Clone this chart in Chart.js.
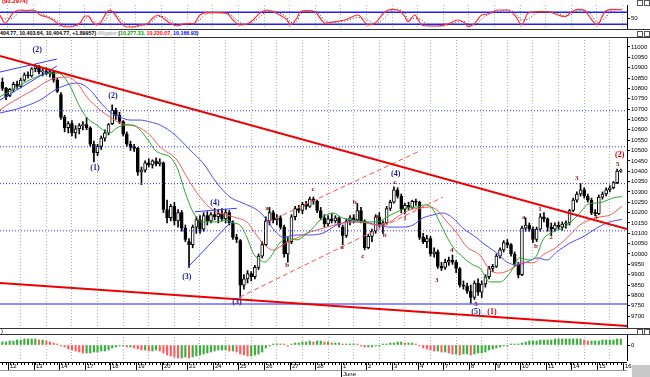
<!DOCTYPE html>
<html lang="en">
<head>
<meta charset="UTF-8" />
<title>DJIA hourly - Alligator</title>
<script src="https://cdn.jsdelivr.net/npm/chart.js"></script>
<style>
  body { margin: 0; background: #fff; font-family: 'Liberation Sans', Arial, sans-serif; }
  #wrap { position: relative; width: 650px; height: 377px; overflow: hidden; background: #fff; }
  canvas { position: absolute; left: 0; }
  .hline { position: absolute; left: 0; width: 650px; height: 1px; background: #333; }
  #stochVal { position: absolute; left: 2px; top: -2px; font-size: 6px; font-weight: bold; color: #e00000; }
  #legend { position: absolute; left: 0; top: 30px; font-size: 5.3px; line-height: 7px; font-weight: bold; white-space: nowrap; color: #000; }
  #legend .gray { color: #999; font-weight: normal; }
  #legend .g { color: #00a000; }
  #legend .r { color: #ff0000; }
  #legend .b { color: #0000ff; }
  .icon { position: absolute; width: 4px; height: 4px; border: 1px solid #555; background: #fff; }
  #corner { position: absolute; left: 632px; top: 365px; width: 18px; height: 12px; background: #c8c8c8; }
  #histHead { position: absolute; left: 1px; top: 328px; font-size: 6px; }
</style>
</head>
<body>
<div id="wrap">
  <canvas id="stoch" width="650" height="24" style="top:5px"></canvas>
  <canvas id="main" width="650" height="291" style="top:37px"></canvas>
  <canvas id="hist" width="650" height="48" style="top:329px"></canvas>

  <div id="stochVal">(93.2974)</div>
  <div id="legend">404.77, 10,403.64, 10,404.77, +1.89957) <span class="gray">Alligator</span> (<span class="g">10,277.33,</span> <span class="r">10,230.07,</span> <span class="b">10,166.93</span>)</div>
  <div id="histHead">)</div>

  <div class="hline" style="top:29px"></div>
  <div class="hline" style="top:37px"></div>
  <div class="hline" style="top:328px"></div>
  <div class="hline" style="top:334px"></div>

  <div class="icon" style="left:637px; top:0px"></div>
  <div class="icon" style="left:644px; top:0px"></div>
  <div class="icon" style="left:637px; top:31px"></div>
  <div class="icon" style="left:644px; top:31px"></div>
  <div class="icon" style="left:637px; top:329px"></div>
  <div class="icon" style="left:644px; top:329px"></div>
  <div id="corner"></div>
</div>

<script>
// hourly candles, May 11 - June 15
const opens = [10830,10800,10765,10795,10820,10810,10840,10865,10860,10895, 10905,10880,10885,10870,10880,10840,10770,10660,10610,10630,
  10585,10605,10620,10625,10610,10530,10490,10520,10560,10585, 10630,10695,10670,10640,10580,10530,10515,10510,10395,10405,
  10440,10430,10450,10435,10440,10215,10175,10230,10160,10200, 10125,10060,10045,10130,10165,10120,10185,10160,10190,10180,
  10195,10170,10200,10150,10080,10065,9850,9880,9905,9890, 9935,9990,10045,10160,10200,10165,10175,10130,10000,10060,
  10180,10220,10210,10240,10230,10265,10255,10210,10175,10145, 10170,10160,10175,10130,10090,10160,10175,10165,10210,10160,
  10030,10085,10110,10180,10140,10150,10220,10250,10310,10280, 10215,10235,10225,10255,10250,10080,10060,10075,10000,10010,
  9940,9935,9960,9970,9960,9930,9850,9845,9820,9790, 9860,9815,9855,9890,9930,9940,9990,10020,10055,10045,
  10000,9950,9900,10125,10140,10120,10070,10120,10180,10170, 10130,10120,10140,10130,10145,10150,10210,10260,10290,10310,
  10280,10260,10200,10195,10275,10290,10310,10320,10345,10400];
const highs = [10850,10805,10800,10830,10835,10850,10875,10880,10900,10915, 10912,10895,10900,10890,10885,10850,10780,10670,10640,10645,
  10620,10630,10640,10660,10615,10545,10530,10570,10600,10630, 10720,10705,10685,10645,10590,10545,10530,10515,10420,10450,
  10460,10455,10465,10460,10445,10260,10240,10250,10215,10210, 10140,10075,10140,10180,10185,10200,10205,10200,10220,10215,
  10220,10215,10210,10160,10095,10070,9900,9920,9915,9945, 10000,10060,10180,10225,10210,10190,10185,10140,10080,10190,
  10230,10235,10250,10255,10275,10275,10260,10225,10190,10185, 10195,10185,10180,10140,10170,10185,10190,10245,10225,10165,
  10095,10120,10190,10200,10160,10230,10260,10325,10320,10290, 10245,10250,10260,10265,10255,10100,10090,10085,10030,10020,
  9960,9975,9985,9995,9970,9935,9870,9860,9850,9870, 9880,9870,9900,9940,9950,10000,10030,10065,10070,10050,
  10010,9960,10135,10175,10150,10130,10130,10195,10200,10175, 10150,10150,10155,10155,10160,10215,10270,10300,10340,10320,
  10290,10270,10215,10285,10300,10320,10330,10350,10410,10410];
const lows = [10790,10745,10760,10785,10800,10805,10835,10850,10855,10880, 10870,10860,10865,10855,10830,10780,10650,10590,10585,10570,
  10560,10580,10600,10600,10520,10445,10475,10505,10545,10575, 10625,10650,10630,10570,10520,10500,10495,10380,10335,10395,
  10420,10415,10425,10425,10200,10150,10160,10140,10130,10110, 10060,9935,10030,10100,10100,10110,10140,10150,10165,10150,
  10160,10150,10140,10070,10055,9790,9830,9860,9870,9880, 9925,9980,10040,10140,10150,10140,10120,9985,9960,10050,
  10165,10200,10195,10215,10225,10240,10200,10165,10130,10135, 10150,10150,10130,10045,10080,10140,10150,10160,10150,10020,
  10025,10060,10100,10130,10100,10145,10210,10245,10270,10200, 10195,10215,10220,10235,10070,10050,10030,9990,9985,9930,
  9920,9925,9945,9950,9910,9840,9830,9810,9760,9780, 9800,9790,9840,9880,9915,9935,9980,10010,10030,9990,
  9940,9885,9895,10110,10110,10055,10060,10110,10155,10110, 10090,10110,10120,10115,10125,10140,10205,10250,10280,10270,
  10250,10190,10185,10190,10265,10280,10300,10315,10340,10395];
const closes = [10800,10760,10795,10820,10810,10840,10865,10860,10895,10905, 10880,10885,10870,10880,10840,10785,10660,10610,10630,10585,
  10605,10620,10625,10610,10530,10490,10520,10560,10585,10625, 10695,10670,10640,10580,10530,10515,10510,10395,10405,10440,
  10430,10450,10435,10445,10215,10175,10230,10160,10200,10125, 10070,10045,10130,10165,10120,10185,10160,10190,10180,10195,
  10170,10200,10150,10080,10070,9850,9880,9905,9890,9935, 9990,10045,10160,10200,10165,10175,10130,10000,10060,10180,
  10220,10210,10240,10230,10265,10255,10210,10175,10145,10170, 10160,10175,10140,10090,10160,10175,10165,10210,10160,10030,
  10085,10110,10180,10140,10150,10220,10250,10310,10280,10215, 10235,10225,10255,10250,10080,10060,10075,10000,10010,9940,
  9932,9960,9970,9960,9930,9850,9845,9820,9790,9860, 9815,9855,9890,9930,9940,9990,10020,10055,10045,10000,
  9950,9900,10125,10140,10120,10070,10120,10180,10170,10130, 10120,10140,10130,10145,10150,10210,10260,10290,10310,10280,
  10260,10200,10195,10275,10290,10310,10320,10345,10400,10405];

// Alligator lines (candle index, price)
const lipsIdx = [-0.7,1.3,7.5,13,15.2,18,21.2,23.1,25.8,27.5,29.4,31.3,33.5,35.7,37.6,39.8,41.7,43.6,45.8,48,49.9,52.1,54.8,58.6,61.4,63,64.9,66.8,68.5,70.4,71.7,73.1,74.5,75.8,77.8,80.5,82.7,84.9,87.6,90.3,93,95.8,99.6,102.4,105.1,107.8,110.5,113.3,115.5,117.4,119.6,121.5,123.1,125.8,128.6,130.5,133.2,136,138.7,141.4,144.1,146.1,147.7,150.4,153.2,155.1,157.8,159.7,161.9,164.1,166.8,169.3];
const lipsVal = [10760,10778,10841,10874,10874,10826,10710,10657,10623,10599,10585,10609,10623,10623,10599,10551,10502,10483,10469,10406,10300,10203,10155,10155,10164,10150,10140,10082,10005,9971,9961,9981,10019,10053,10077,10068,10092,10126,10179,10198,10174,10164,10155,10155,10179,10203,10222,10227,10237,10222,10150,10082,10034,9986,9947,9932,9865,9865,9908,9981,9971,9995,10068,10106,10126,10150,10198,10237,10246,10251,10271,10277];
const teethIdx = [-0.7,2.1,8.4,13,17.7,20.4,23.1,26.7,29.4,32.1,34.9,37.6,40.3,43.1,47.7,50.4,54,57.5,61.4,64.1,66.8,68.5,70.4,72.3,73.9,75.8,77.8,80.5,83.2,86,88.7,93.1,97.7,102.4,105.9,108.6,111.4,114.1,116.8,118.7,121.5,124.2,126.9,130.5,133.2,136,139.5,142.2,145,147.7,151.5,155.1,157.8,160.5,163.3,166,169.3];
const teethVal = [10696,10729,10792,10841,10855,10826,10758,10696,10662,10633,10623,10609,10575,10517,10454,10372,10275,10213,10188,10174,10155,10116,10068,10034,10019,10034,10058,10077,10101,10116,10130,10150,10155,10140,10155,10188,10213,10222,10227,10213,10155,10101,10034,9995,9923,9908,9932,9961,9957,9995,10034,10092,10140,10164,10179,10188,10230];
const jawIdx = [-0.7,4.8,10.3,14.4,17.4,20.4,24,26.7,29.4,32.1,34.9,37.6,40.3,43.1,47.2,51.3,54.8,58.6,62.2,65.7,69.6,71.2,72.6,75,76.7,80.5,84.1,87.6,91.4,95,98.5,102.4,105.9,109.5,112.2,114.9,117.6,120.4,123.1,125.8,129.7,131.3,135.1,137.9,140.6,143.3,146.1,148.8,151.5,155.1,158.6,162.5,166,169.3];
const jawVal = [10681,10705,10744,10792,10816,10826,10792,10734,10686,10662,10647,10647,10638,10623,10575,10502,10440,10343,10275,10246,10213,10188,10155,10101,10082,10092,10092,10101,10140,10155,10155,10140,10130,10130,10140,10174,10188,10198,10174,10126,10077,10053,10005,9961,9947,9961,9981,9971,10010,10053,10082,10126,10155,10167];

// stochastic %K / %D
const stochIdx = [-0.7,0.7,2.9,4.8,6.7,8.4,10.3,12.2,13.8,15.7, 17.7,20.4,21.2,22.6,23.4,24.5,25.8,26.7,28.6,29.4,
  30.8,32.1,34.0,35.7,37.6,39.5,41.1,42.5,43.9,45.8, 47.7,49.3,51.3,52.1,54.0,55.9,58.6,61.4,63.0,64.9,
  66.8,68.5,70.4,72.3,73.9,75.8,77.8,78.6,80.5,81.3, 83.2,85.4,86.8, 88.1,90.9,93.6,97.2,99.9,101.8,104.5,
  106.4,108.1,110.0,110.8,112.7,114.6,116.3,119.0,121.7,124.5, 126.4,127.2,129.1,131.0,132.7,135.4,138.1,140.0,142.0,143.6,
  146.3,149.1,151.8,153.7,155.6,157.3,159.2,161.1,162.5,164.6, 166.6,169.3];
const stochK = [66.5,26.5,76.5,91.5,88,91.5,66.5,56.5,41.5,16.5, 6.5,16.5,26.5,61.5,61.5,33,16.5,26.5,81.5,91.5,
  66.5,33,6.5,6.5,16.5,21.5,51.5,66.5,51.5,26.5, 11.5,21.5,25,21.5,66.5,78,78,75,41.5,16.5,
  21.5,41.5,76.5,91.5,83,66.5,41.5,16.5,51.5,81.5, 88,83,51.5, 26.5,33,41.5,66.5,16.5,25,81.5,
  95,91.5,58,33,66.5,16.5,11.5,11.5,21.5,41.5, 25,8,25,66.5,71.5,91.5,91.5,66.5,16.5,75,
  83,83,66.5,58,83,95,88,41.5,16.5,81.5, 95,93];
const stochD = [60,46.5,51.5,84,90,90,79,61.5,49,29, 11.5,11.5,21.5,44,61.5,47,25,21.5,54,86.5,
  79,50,20,6.5,11.5,19,36.5,59,59,39, 19,16.5,23,23,44,72,78,76.5,58,29,
  19,31.5,59,84,87,75,54,29,34,66.5, 85,85.5,67, 39,30,37,54,41.5,21,53,
  88,93,75,45.5,50,41.5,14,11.5,16.5,31.5, 33,16.5,16.5,46,69,81.5,91.5,79,41.5,46,
  79,83,75,62,70.5,89,91.5,65,29,49, 88,94];

// MACD histogram, one bar per candle
const macdHist = [15,15,20,20,25,25,30,30,30, 30,25,25,20,15,10,5, -5,-10,-20,-25,-30,-35,-40,
  -40,-40,-35,-35,-30,-30,-25, -15,-10,-5,-5,-10,-10,-15, -20,-25,-25,-30,-30,-25,-30,
  -40,-50,-55,-60,-65,-65,-60, -65,-60,-55,-50,-45,-40,-35, -30,-25,-25,-25,-30,-30,-35,
  -45,-50,-55,-55,-50,-45,-35, -15,-5,1,5,5,1,-5, 5,10,10,15,15,20,15,
  20,20,15,15,10,10,10, 5,5,5,5,1,-5,-10, -10,-10,-5,-5,1,5,10,
  10,15,15,10,10,10,5, -5,-15,-20,-25,-30,-30,-35, -35,-40,-45,-45,-50,-45,-45,
  -50,-45,-40,-40,-35,-25,-20, -15,-10,-5,-1,1,5,5, 10,15,20,20,20,25,25,
  25,25,30,30,30,30,30, 30,30,30,25,20,20,20, 20,25,25,25,25,30,30];

// support / resistance levels and trend lines
const levelPrices = [10692, 10518, 10340, 10112];
const baseLevel = 9758;
const upperTrend = [[-0.66, 10957], [170.7, 10121]];
const lowerTrend = [[-0.66, 9860], [170.7, 9652]];
const wedgeTop = [[-0.66, 10879], [14.9, 10942]];
const wedgeLow = [[-0.66, 10744], [14.9, 10908]];
const triRise = [[50.7, 9936], [62.8, 10161]];
const triTop = [[52.6, 10204], [64.1, 10221]];
const chanLow = [[64.9, 9792], [120.4, 10275]];
const chanHigh = [[72.6, 10155], [114.1, 10498]];

// wave counts
const degreeText = ['(2)', '(2)', '(1)', '(4)', '(3)', '(3)', '(4)', '(5)'];
const degreeIdx = [9.5, 30.2, 25.3, 58.1, 50.4, 64.1, 107.5, 129.4];
const degreePrice = [10986, 10763, 10415, 10246, 9889, 9768, 10387, 9720];
const newDegreeText = ['(1)', '(2)'];
const newDegreeIdx = [133.8, 168.7];
const newDegreePrice = [9720, 10478];
const minorText = ['a','b','c','a','b','c','a','b','c','1','3','4','5','a','b','1','2','3','4','5'];
const minorIdx = [72.3,77.8,84.9,92.8,96.3,98.5,102.4,104.5,107.3,110,118.7,122.8,129.4,142.5,145.8,146.9,149.9,157,162.2,168.2];
const minorPrice = [10222,9947,10314,10034,10251,9990,10183,10092,10348,10174,9874,10019,9759,10178,10039,10217,10082,10367,10178,10435];

// axis labels
const priceTicks = [9700,9750,9800,9850,9900,9950,10000,10050,10100,10150,10200,10250,10300,10350,10400,10450,10500,10550,10600,10650,10700,10750,10800,10850,10900,10950,11000];
const dayLabels = ['12','13','14','17','18','19','20','21','24','25','26','27','28','1','2','3','4','7','8','9','10','11','14','15','16'];
const monthLabel = 'June';
const monthDay = 13;

const xMin = -0.66, xMax = 170.7;
const dayTicks = dayLabels.map((_, d) => 1.5 + 7 * d);
const pts = (xs, ys) => xs.map((x, k) => ({ x, y: ys[k] }));
const seg = (s) => s.map(p => ({ x: p[0], y: p[1] }));
const flat = (v) => [{ x: xMin, y: v }, { x: xMax, y: v }];

function xAxis() {
  return {
    type: 'linear', min: xMin, max: xMax, offset: false,
    ticks: { display: false },
    grid: { color: '#b0b0b0', drawTicks: false, lineWidth: 1 },
    border: { display: false, dash: [1, 2] },
    afterBuildTicks: s => { s.ticks = dayTicks.map(v => ({ value: v })); }
  };
}
function yAxis(min, max, ticks) {
  return {
    position: 'right', min, max,
    afterBuildTicks: s => { s.ticks = ticks.map(v => ({ value: v })); },
    afterFit: s => { s.width = 23; s.paddingTop = 0; s.paddingBottom = 0; },
    ticks: { color: '#000', autoSkip: false, padding: 1, font: { size: 6, family: '"Liberation Sans"' }, callback: v => String(v) },
    grid: { drawOnChartArea: false, tickLength: 3, color: '#000' },
    border: { display: true, color: '#000' }
  };
}
const baseOpts = {
  responsive: false, animation: false,
  layout: { padding: 0 },
  plugins: { legend: { display: false }, tooltip: { enabled: false } }
};
const line = (data, color, width, extra) => Object.assign({
  type: 'line', data, borderColor: color, borderWidth: width, pointRadius: 0, fill: false
}, extra || {});

// ---- stochastic panel
new Chart(document.getElementById('stoch'), {
  type: 'line',
  data: { datasets: [
    line(pts(stochIdx, stochK), '#ff3030', 1.2, { cubicInterpolationMode: 'monotone' }),
    line(pts(stochIdx, stochD), '#333', 1, { borderDash: [1, 2], cubicInterpolationMode: 'monotone' }),
    line(flat(80), '#2020ff', 1.5),
    line(flat(20), '#2020ff', 1.5)
  ] },
  options: Object.assign({}, baseOpts, {
    scales: { x: xAxis(), y: yAxis(-3.5, 116.5, [50]) }
  })
});

// ---- main price panel
const wavePlugin = {
  id: 'waves',
  afterDatasetsDraw(c) {
    const { ctx, scales: { x, y } } = c;
    ctx.save();
    ctx.textAlign = 'center';
    ctx.textBaseline = 'middle';
    const put = (texts, xs, ys, font, color) => {
      ctx.font = font; ctx.fillStyle = color;
      texts.forEach((t, k) => ctx.fillText(t, x.getPixelForValue(xs[k]), y.getPixelForValue(ys[k])));
    };
    put(degreeText, degreeIdx, degreePrice, 'bold 8px "Liberation Serif"', '#1c1c8c');
    put(newDegreeText, newDegreeIdx, newDegreePrice, 'bold 8px "Liberation Serif"', '#d00000');
    put(minorText, minorIdx, minorPrice, 'bold 7px "Liberation Serif"', '#8b1010');
    ctx.restore();
  }
};

const wickData = highs.map((h, i) => ({ x: i, y: [lows[i], h] }));
const bodyData = opens.map((o, i) => ({ x: i, y: [o, closes[i]] }));
const bodyFill = opens.map((o, i) => closes[i] >= o ? '#ffffff' : '#000000');

new Chart(document.getElementById('main'), {
  type: 'bar',
  data: { datasets: [
    line(seg(upperTrend), '#ee0000', 2, { order: 0 }),
    line(seg(lowerTrend), '#ee0000', 2, { order: 0 }),
    line(seg(chanLow), '#ff5050', 1, { borderDash: [5, 3], order: 0 }),
    line(seg(chanHigh), '#ff5050', 1, { borderDash: [5, 3], order: 0 }),
    line(seg(wedgeTop), '#3a3aff', 1, { order: 0 }),
    line(seg(wedgeLow), '#3a3aff', 1, { order: 0 }),
    line(seg(triRise), '#3a3aff', 1, { order: 0 }),
    line(seg(triTop), '#3a3aff', 1, { order: 0 }),
    ...levelPrices.map(v => line(flat(v), '#3030ff', 1, { borderDash: [1, 2], order: 0 })),
    line(flat(baseLevel), '#6a6aff', 1.5, { order: 0 }),
    line(pts(lipsIdx, lipsVal), '#2aa52a', 1, { cubicInterpolationMode: 'monotone', order: 1 }),
    line(pts(teethIdx, teethVal), '#f05a5a', 1, { cubicInterpolationMode: 'monotone', order: 1 }),
    line(pts(jawIdx, jawVal), '#4b4bf0', 1, { cubicInterpolationMode: 'monotone', order: 1 }),
    { type: 'bar', data: bodyData, backgroundColor: bodyFill, borderColor: '#000', borderWidth: 1,
      borderSkipped: false, barThickness: 3, grouped: false, minBarLength: 1, order: 2 },
    { type: 'bar', data: wickData, backgroundColor: '#000', barThickness: 1, grouped: false, order: 3 }
  ] },
  options: Object.assign({}, baseOpts, {
    scales: { x: xAxis(), y: yAxis(9642.5, 11048.3, priceTicks) }
  }),
  plugins: [wavePlugin]
});

// ---- MACD histogram + date ruler
const rulerPlugin = {
  id: 'ruler',
  afterDraw(c) {
    const { ctx, scales: { x } } = c;
    const top = 33;
    ctx.save();
    ctx.fillStyle = '#000';
    ctx.fillRect(0, top, 627, 1);
    ctx.fillStyle = '#999';
    ctx.fillRect(0, top + 8, 627, 1);
    ctx.fillStyle = '#000';
    opens.forEach((_, i) => {
      ctx.fillRect(Math.round(x.getPixelForValue(i)), top + 1, 1, 2);
    });
    ctx.font = '6px "Liberation Sans"';
    ctx.textAlign = 'left';
    ctx.textBaseline = 'middle';
    dayLabels.forEach((t, d) => {
      const px = Math.round(x.getPixelForValue(dayTicks[d]));
      ctx.fillRect(px, top + 1, 1, d === monthDay ? 15 : 7);
      ctx.fillText(t, px + 2, top + 4.5);
    });
    ctx.fillText(monthLabel, Math.round(x.getPixelForValue(dayTicks[monthDay])) + 2, top + 12);
    ctx.restore();
  }
};

new Chart(document.getElementById('hist'), {
  type: 'bar',
  data: { datasets: [{
    data: macdHist.map((v, i) => ({ x: i, y: v })),
    backgroundColor: macdHist.map((v, i) => (i > 0 && v < macdHist[i - 1]) ? '#ff5c5c' : '#3cae3c'),
    barThickness: 1.5, grouped: false, minBarLength: 1
  }] },
  options: Object.assign({}, baseOpts, {
    layout: { padding: { top: 5, bottom: 17 } },
    scales: { x: xAxis(), y: yAxis(-75, 55, [0]) }
  }),
  plugins: [rulerPlugin]
});
</script>
</body>
</html>
